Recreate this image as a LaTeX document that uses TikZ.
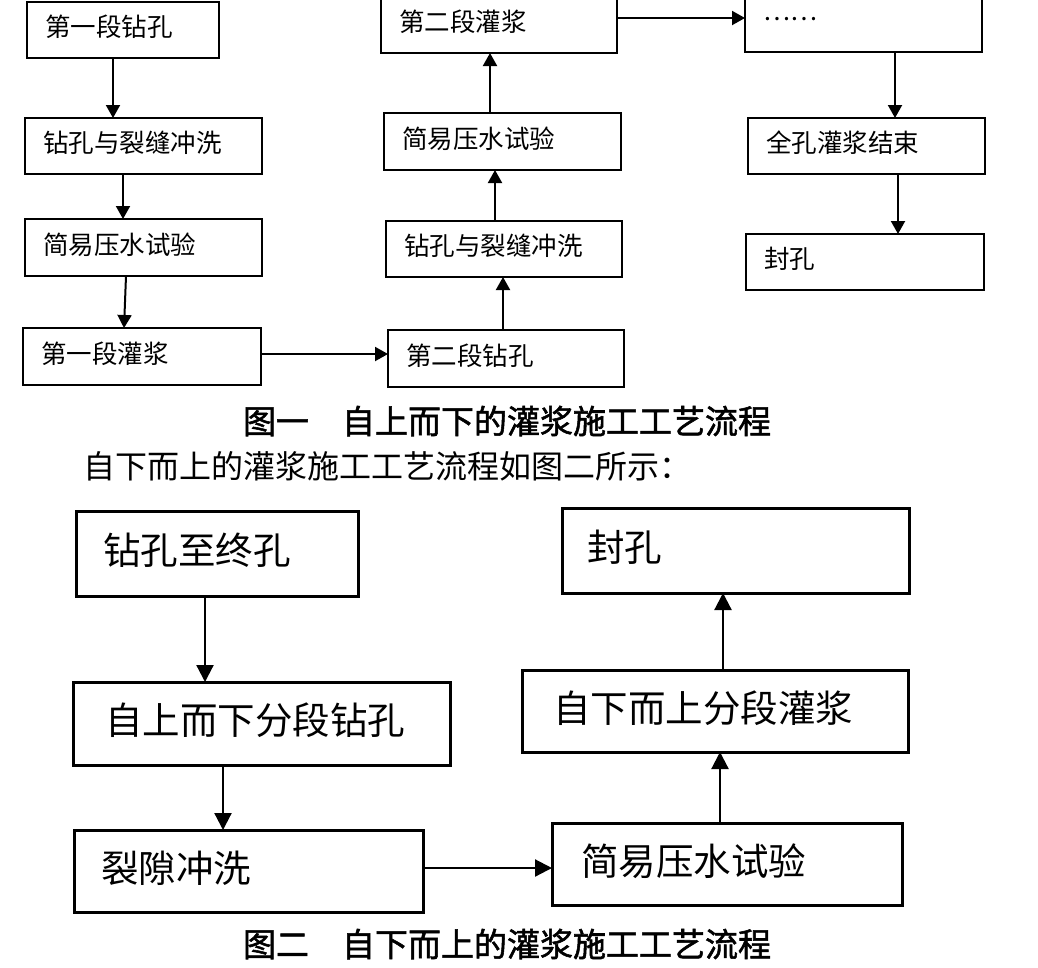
\documentclass[tikz,border=0pt]{standalone}
\usepackage{fontspec}
\newfontfamily\cjk{Noto Sans CJK SC}
\newfontfamily\cjkcap[FakeBold=1.6]{Noto Sans CJK SC}
\usetikzlibrary{arrows.meta}
\begin{document}
\begin{tikzpicture}[x=1pt,y=-1pt,
  tb/.style={draw, line width=2.5pt, rectangle, anchor=north west, outer sep=0pt,
    inner ysep=0pt, inner xsep=18pt, align=left, text depth=8.5pt,
    font=\cjk\fontsize{25.5}{28}\selectfont},
  bb/.style={draw, line width=3pt, rectangle, anchor=north west, outer sep=0pt,
    inner ysep=0pt, align=left, text depth=9.5pt,
    font=\cjk\fontsize{37.5}{42}\selectfont},
  ta/.style={line width=2pt, -{Triangle[length=13pt,width=14pt]}},
  ba/.style={line width=2.2pt, -{Triangle[length=17pt,width=17pt]}},
  captext/.style={inner sep=0pt, font=\cjkcap\fontsize{33}{36}\selectfont}
]
\useasboundingbox (0,0) rectangle (1038,967);
\clip (0,0) rectangle (1038,967);
\fill[white] (0,0) rectangle (1038,967);

% ---- figure 1 ----
\node[tb, minimum width=192pt, minimum height=56pt, text width=156pt] (b1) at (27,2) {第一段钻孔};
\node[tb, minimum width=237pt, minimum height=56pt, text width=201pt] (b2) at (25,118) {钻孔与裂缝冲洗};
\node[tb, minimum width=237pt, minimum height=57pt, text width=201pt] (b3) at (25,219) {简易压水试验};
\node[tb, minimum width=238pt, minimum height=57pt, text width=202pt] (b4) at (23,328) {第一段灌浆};
\node[tb, minimum width=236pt, minimum height=57pt, text width=200pt] (b5) at (388,330) {第二段钻孔};
\node[tb, minimum width=236pt, minimum height=56pt, text width=200pt] (b6) at (386,221) {钻孔与裂缝冲洗};
\node[tb, minimum width=237pt, minimum height=57pt, text width=201pt] (b7) at (384,113) {简易压水试验};
\node[tb, minimum width=236pt, minimum height=57pt, text width=200pt] (b8) at (381,-4) {第二段灌浆};
\node[tb, minimum width=237pt, minimum height=57pt, text width=201pt] (b9) at (745,-5) {……};
\node[tb, minimum width=237pt, minimum height=56pt, text width=201pt] (b10) at (748,118) {全孔灌浆结束};
\node[tb, minimum width=238pt, minimum height=56pt, text width=202pt] (b11) at (746,234) {封孔};

\draw[ta] ([xshift=86pt]b1.south west) -- ([xshift=88pt]b2.north west);
\draw[ta] ([xshift=98pt]b2.south west) -- ([xshift=98pt]b3.north west);
\draw[ta] ([xshift=101pt]b3.south west) -- ([xshift=101pt]b4.north west);
\draw[ta] ([yshift=-26pt]b4.north east) -- ([yshift=-24pt]b5.north west);
\draw[ta] ([xshift=115pt]b5.north west) -- ([xshift=117pt]b6.south west);
\draw[ta] ([xshift=109pt]b6.north west) -- ([xshift=111pt]b7.south west);
\draw[ta] ([xshift=106pt]b7.north west) -- ([xshift=109pt]b8.south west);
\draw[ta] ([yshift=-22pt]b8.north east) -- ([yshift=-23pt]b9.north west);
\draw[ta] ([xshift=150pt]b9.south west) -- ([xshift=147pt]b10.north west);
\draw[ta] ([xshift=150pt]b10.south west) -- ([xshift=152pt]b11.north west);

\node[captext] (cap1) at (507,421) {图一　自上而下的灌浆施工工艺流程};
\node[anchor=west, inner sep=0pt, font=\cjk\fontsize{32}{36}\selectfont] (intro) at (83,466) {自下而上的灌浆施工工艺流程如图二所示：};

% ---- figure 2 ----
\node[bb, minimum width=282pt, minimum height=85pt, inner xsep=27pt, text width=228pt] (A) at (76,511) {钻孔至终孔};
\node[bb, minimum width=377pt, minimum height=83pt, inner xsep=32pt, text width=313pt] (B) at (73,682) {自上而下分段钻孔};
\node[bb, minimum width=349pt, minimum height=82pt, inner xsep=27pt, text width=295pt] (C) at (74,830) {裂隙冲洗};
\node[bb, minimum width=350pt, minimum height=82pt, inner xsep=29pt, text width=292pt] (D) at (552,823) {简易压水试验};
\node[bb, minimum width=386pt, minimum height=82pt, inner xsep=31pt, text width=324pt] (E) at (522,670) {自下而上分段灌浆};
\node[bb, minimum width=347pt, minimum height=85pt, inner xsep=25pt, text width=297pt] (F) at (562,508) {封孔};

\draw[ba] ([xshift=129pt]A.south west) -- ([xshift=132pt]B.north west);
\draw[ba] ([xshift=150pt]B.south west) -- ([xshift=149pt]C.north west);
\draw[ba] ([yshift=-38pt]C.north east) -- ([yshift=-45pt]D.north west);
\draw[ba] ([xshift=168pt]D.north west) -- ([xshift=198pt]E.south west);
\draw[ba] ([xshift=201pt]E.north west) -- ([xshift=161pt]F.south west);

\node[captext] (cap2) at (507,944) {图二　自下而上的灌浆施工工艺流程};
\end{tikzpicture}
\end{document}
